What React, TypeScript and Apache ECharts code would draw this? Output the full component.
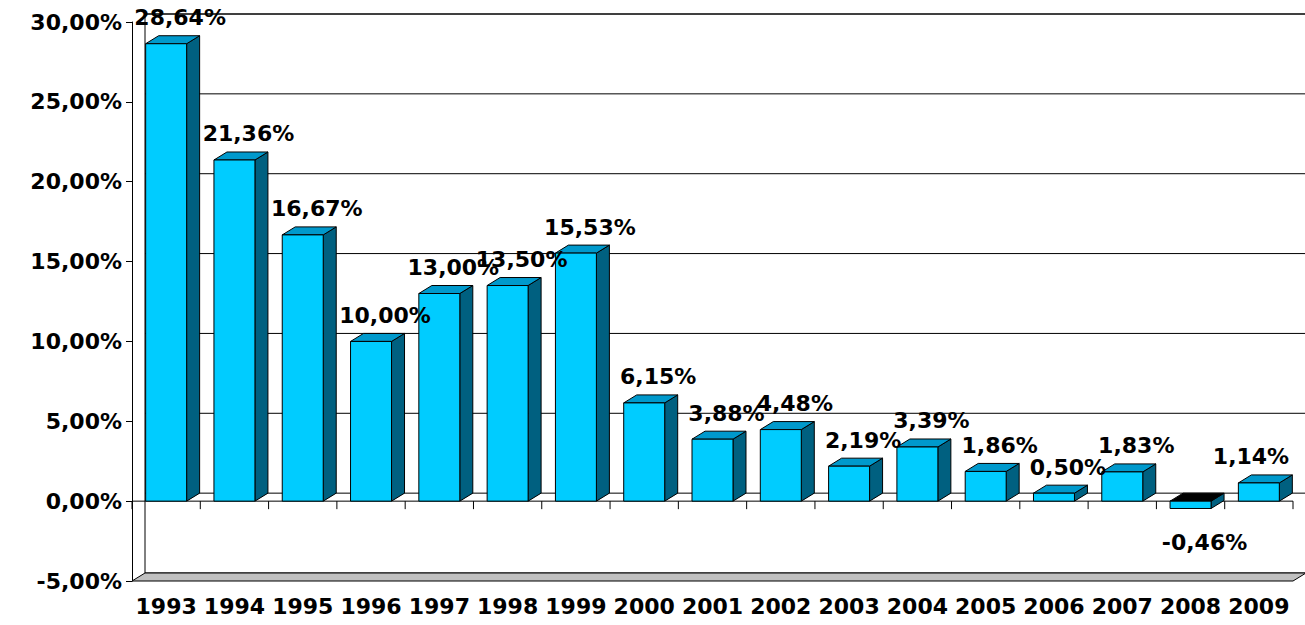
import React, { useEffect, useRef } from "react";
import * as echarts from "echarts";

const years = ["1993","1994","1995","1996","1997","1998","1999","2000","2001","2002","2003","2004","2005","2006","2007","2008","2009"];
const values = [28.64,21.36,16.67,10.0,13.0,13.5,15.53,6.15,3.88,4.48,2.19,3.39,1.86,0.5,1.83,-0.46,1.14];
const yTicks = [-5,0,5,10,15,20,25,30];

const DX = 13, DY = -8;
const fmt = (v: number) => v.toFixed(2).replace(".", ",") + "%";
const FONT = "DejaVu Sans";
const FS = 22;

export default function App() {
  const ref = useRef<HTMLDivElement>(null);
  useEffect(() => {
    const chart = echarts.init(ref.current!, null, { renderer: "svg" });
    const n = years.length;
    chart.setOption({
      animation: false,
      grid: { left: 132, right: 12, top: 22, bottom: 44 },
      xAxis: {
        type: "category", data: years,
        axisLine: { show: false, onZero: false }, axisTick: { show: false },
        axisLabel: { fontFamily: FONT, fontWeight: "bold", fontSize: FS, color: "#000", margin: 14, interval: 0 },
      },
      yAxis: {
        type: "value", min: -5, max: 30, interval: 5,
        axisLine: { show: true, lineStyle: { color: "#000" } },
        axisTick: { show: true, length: 6, lineStyle: { color: "#000" } },
        splitLine: { show: false },
        axisLabel: { formatter: (v: number) => fmt(v), fontFamily: FONT, fontWeight: "bold", fontSize: FS, color: "#000", margin: 10 },
      },
      series: [
        {
          type: "custom", z: 1, silent: true, data: [[0]],
          renderItem: (params: any, api: any) => {
            const bw = api.size([1, 0])[0];
            const x0 = api.coord([0, 0])[0] - bw / 2;
            const x1 = api.coord([n - 1, 0])[0] + bw / 2;
            const yTop = api.coord([0, 30])[1];
            const yBot = api.coord([0, -5])[1];
            const y0 = api.coord([0, 0])[1];
            const children: any[] = [];
            children.push({ type: "polygon", shape: { points: [[x0 + DX, yTop + DY], [x1 + DX, yTop + DY], [x1 + DX, yBot + DY], [x0 + DX, yBot + DY]] }, style: { fill: "#fff", stroke: "#000", lineWidth: 1 } });
            yTicks.forEach((t) => {
              if (t === -5) return;
              const y = api.coord([0, t])[1];
              children.push({ type: "line", shape: { x1: x0 + DX, y1: y + DY, x2: x1 + DX, y2: y + DY }, style: { stroke: "#000", lineWidth: 1 } });
            });
            children.push({ type: "polygon", shape: { points: [[x0, yBot], [x1, yBot], [x1 + DX, yBot + DY], [x0 + DX, yBot + DY]] }, style: { fill: "#c0c0c0", stroke: "#000", lineWidth: 1 } });
            children.push({ type: "line", shape: { x1: x0, y1: y0, x2: x1, y2: y0 }, style: { stroke: "#000", lineWidth: 1 } });
            for (let i = 0; i <= n; i++) {
              const x = x0 + i * bw;
              children.push({ type: "line", shape: { x1: x, y1: y0, x2: x, y2: y0 + 8 }, style: { stroke: "#000", lineWidth: 1 } });
            }
            return { type: "group", children };
          },
        },
        {
          type: "custom", z: 2,
          data: values.map((v, i) => [i, v]),
          renderItem: (params: any, api: any) => {
            const i = api.value(0), v = api.value(1);
            const bw = api.size([1, 0])[0] * 0.6;
            const c = api.coord([i, v]);
            const base = api.coord([i, 0]);
            const xl = c[0] - bw / 2, xr = c[0] + bw / 2;
            const yt = Math.min(c[1], base[1]), yb = Math.max(c[1], base[1]);
            const st = { stroke: "#000", lineWidth: 1 };
            return {
              type: "group",
              children: [
                { type: "polygon", shape: { points: [[xr, yt], [xr + DX, yt + DY], [xr + DX, yb + DY], [xr, yb]] }, style: { fill: "#006080", ...st } },
                { type: "polygon", shape: { points: [[xl, yt], [xr, yt], [xr + DX, yt + DY], [xl + DX, yt + DY]] }, style: { fill: v >= 0 ? "#0099cc" : "#000", ...st } },
                { type: "rect", shape: { x: xl, y: yt, width: bw, height: yb - yt }, style: { fill: "#00ccff", ...st } },
              ],
            };
          },
        },
        {
          type: "custom", z: 3,
          data: values.map((v, i) => [i, v]),
          renderItem: (params: any, api: any) => {
            const i = api.value(0), v = api.value(1);
            const c = api.coord([i, v]);
            const base = api.coord([i, 0]);
            const yt = Math.min(c[1], base[1]), yb = Math.max(c[1], base[1]);
            const labelY = v >= 0 ? yt - 26 : yb + 34;
            const half = 52;
            const rightLimit = api.getWidth() - 2;
            const cx = Math.min(c[0] + 14, rightLimit - half);
            return { type: "text", x: cx, y: labelY, style: { text: fmt(v), fontFamily: FONT, fontWeight: "bold", fontSize: FS, fill: "#000", align: "center", verticalAlign: "middle" } };
          },
        },
      ],
    });
    return () => chart.dispose();
  }, []);
  return <div ref={ref} style={{ width: 1305, height: 625, position: "absolute", left: 0, top: 0, background: "#fff" }} />;
}
